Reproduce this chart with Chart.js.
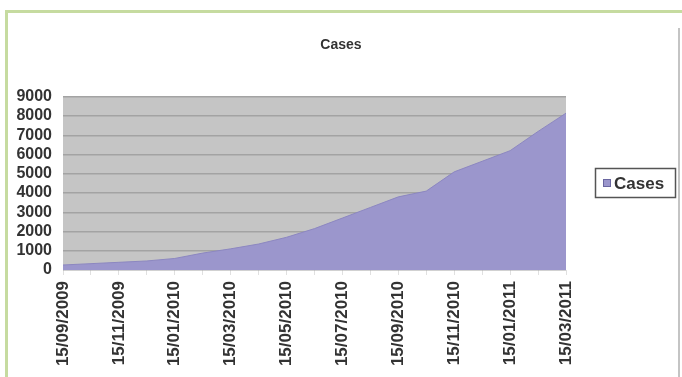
<!DOCTYPE html>
<html>
<head>
<meta charset="utf-8">
<script src="https://cdn.jsdelivr.net/npm/chart.js@4"></script>
<style>
  html, body { margin: 0; padding: 0; background: #fff; }
  #wrap { position: relative; width: 682px; height: 377px; overflow: hidden; }
  #c { position: absolute; left: 0; top: 0; }
  .gtop { position: absolute; left: 5px; top: 10px; width: 677px; height: 3px; background: #c6dba0; }
  .gleft { position: absolute; left: 5px; top: 10px; width: 3px; height: 367px; background: #c6dba0; }
  .rline { position: absolute; left: 678px; top: 28px; width: 2px; height: 349px; background: #c4c4c4; }
</style>
</head>
<body>
<div id="wrap">
  <canvas id="c" width="682" height="377"></canvas>
  <div class="gtop"></div>
  <div class="gleft"></div>
  <div class="rline"></div>
</div>
<script>
// Monthly observation dates (categories)
const dates = [
  '15/09/2009','15/10/2009','15/11/2009','15/12/2009',
  '15/01/2010','15/02/2010','15/03/2010','15/04/2010',
  '15/05/2010','15/06/2010','15/07/2010','15/08/2010',
  '15/09/2010','15/10/2010','15/11/2010','15/12/2010',
  '15/01/2011','15/02/2011','15/03/2011'
];
// Cumulative cases
const cases = [
  260, 330, 400, 470,
  600, 880, 1100, 1350,
  1700, 2150, 2700, 3250,
  3800, 4100, 5100, 5650,
  6200, 7200, 8150
];
const seriesName = 'Cases';
const chartTitle = 'Cases';
const yMin = 0, yMax = 9000, yStep = 1000;

const fillColor = 'rgb(155,150,204)';
const FONT = "'Liberation Sans', Arial, sans-serif";

const plotBg = {
  id: 'plotBg',
  beforeDraw(chart) {
    const a = chart.chartArea, ctx = chart.ctx;
    ctx.save();
    ctx.fillStyle = '#c5c5c5';
    ctx.fillRect(a.left, a.top, a.right - a.left, a.bottom - a.top);
    ctx.restore();
  }
};

const boxLegend = {
  id: 'boxLegend',
  afterDraw(chart) {
    const ctx = chart.ctx;
    const ds = chart.data.datasets[0];
    ctx.save();
    const x = 595.5, y = 168.5, w = 80, h = 29;
    ctx.fillStyle = '#fff';
    ctx.fillRect(x, y, w, h);
    ctx.strokeStyle = '#555';
    ctx.lineWidth = 1.5;
    ctx.strokeRect(x, y, w, h);
    ctx.fillStyle = ds.backgroundColor;
    ctx.fillRect(603, 179, 8, 8);
    ctx.strokeStyle = '#6a66a0';
    ctx.lineWidth = 1;
    ctx.strokeRect(603.5, 179.5, 7, 7);
    ctx.fillStyle = '#333';
    ctx.font = 'bold 17px ' + FONT;
    ctx.textBaseline = 'middle';
    ctx.textAlign = 'left';
    ctx.fillText(ds.label, 614, 184);
    ctx.restore();
  }
};

new Chart(document.getElementById('c'), {
  type: 'line',
  data: {
    labels: dates,
    datasets: [{
      label: seriesName,
      data: cases,
      fill: 'origin',
      backgroundColor: fillColor,
      borderColor: 'rgb(140,135,192)',
      borderWidth: 1,
      pointRadius: 0,
      tension: 0
    }]
  },
  options: {
    responsive: false,
    animation: false,
    layout: { padding: 0 },
    plugins: {
      legend: { display: false },
      tooltip: { enabled: false },
      title: {
        display: true,
        text: chartTitle,
        color: '#333',
        font: { family: FONT, size: 14, weight: 'bold' },
        padding: { top: 37, bottom: 43 }
      }
    },
    scales: {
      x: {
        offset: false,
        grid: { display: true, drawOnChartArea: false, color: '#e0e0e0', tickLength: 5 },
        border: { display: false },
        ticks: {
          autoSkip: false,
          minRotation: 90,
          maxRotation: 90,
          padding: 6,
          color: '#333',
          font: { family: FONT, size: 17, weight: 'bold' },
          callback: function(v, i) { return i % 2 === 0 ? this.getLabelForValue(v) : ''; }
        },
        afterFit(s) { s.height = 107; }
      },
      y: {
        min: yMin,
        max: yMax,
        grid: { color: '#a3a3a3', lineWidth: 1.5, drawTicks: false },
        border: { display: false },
        ticks: {
          stepSize: yStep,
          autoSkip: false,
          padding: 11,
          color: '#333',
          font: { family: FONT, size: 16, weight: 'bold' },
          callback: (v) => String(v)
        },
        afterFit(s) { s.width = 63; }
      },
      pad: {
        position: 'right',
        display: true,
        grid: { display: false, drawTicks: false },
        border: { display: false },
        ticks: { display: false },
        afterFit(s) { s.width = 116; }
      }
    }
  },
  plugins: [plotBg, boxLegend]
});
</script>
</body>
</html>
